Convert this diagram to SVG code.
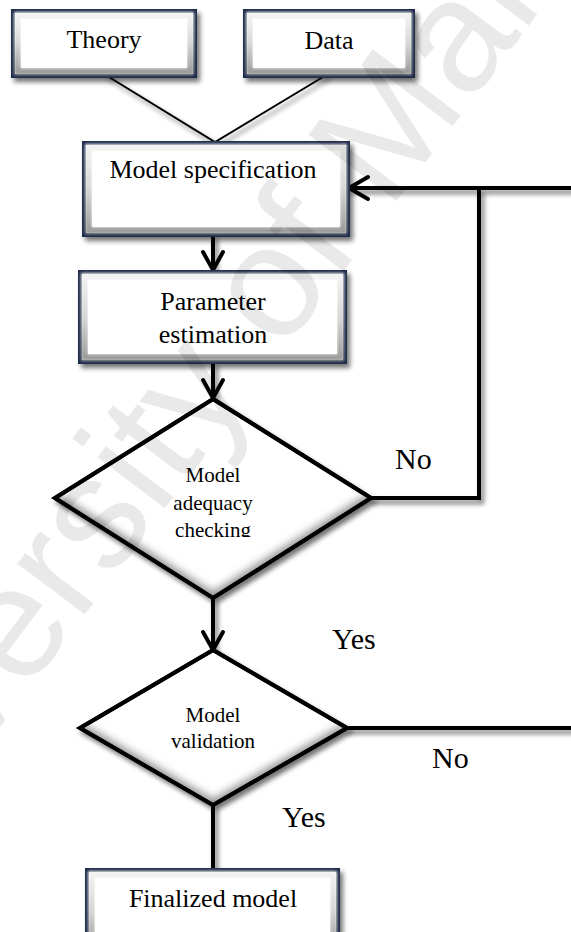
<svg xmlns="http://www.w3.org/2000/svg" width="571" height="932" viewBox="0 0 571 932">
  <defs>
    <style>
      .lbl { font-family: "Liberation Serif", "Times New Roman", serif; fill: #000; }
      .box-t { font-size: 26px; text-anchor: middle; }
      .dia-t { font-size: 21px; text-anchor: middle; }
      .edge-t { font-size: 30px; }
      .frame { fill: #fff; stroke: #1d2b4a; stroke-width: 4; }
      .bevel { fill: none; stroke: url(#bevelGrad); stroke-width: 7; }
      .dia { fill: #fff; stroke: #000; stroke-width: 4; stroke-linejoin: miter; }
      .wire { fill: none; stroke: #000; stroke-width: 4; stroke-linecap: square; }
      .thin { fill: none; stroke: #000; stroke-width: 2; }
      .head { fill: none; stroke: #000; stroke-width: 4; stroke-linecap: round; stroke-linejoin: miter; }
      .wm { font-family: "Liberation Sans", Arial, sans-serif; font-size: 160px; fill: #000; fill-opacity: 0.085; }
    </style>
    <filter id="shadow" x="-20%" y="-20%" width="150%" height="150%">
      <feGaussianBlur in="SourceAlpha" stdDeviation="2.5"/>
      <feOffset dx="3" dy="4" result="off"/>
      <feComponentTransfer><feFuncA type="linear" slope="0.55"/></feComponentTransfer>
      <feMerge><feMergeNode/><feMergeNode in="SourceGraphic"/></feMerge>
    </filter>
    <filter id="soft" x="-10%" y="-10%" width="120%" height="120%">
      <feGaussianBlur stdDeviation="1.6"/>
    </filter>
    <filter id="inner" x="-10%" y="-10%" width="120%" height="120%">
      <feGaussianBlur stdDeviation="4"/>
    </filter>
    <linearGradient id="bevelGrad" x1="0" y1="0" x2="0" y2="1">
      <stop offset="0" stop-color="#f2f2f2"/>
      <stop offset="0.5" stop-color="#d6d6d6"/>
      <stop offset="1" stop-color="#9c9c9c"/>
    </linearGradient>
    <clipPath id="clipD1"><polygon points="213,399 371,498 213,598 55,498"/></clipPath>
    <clipPath id="clipD2"><polygon points="213,650 347,728 213,805 80,728"/></clipPath>
    <clipPath id="clipCheck"><rect x="0" y="0" width="571" height="537"/></clipPath>
  </defs>

  <rect width="571" height="932" fill="#fff"/>

  <!-- connectors -->
  <g id="connectors">
    <g filter="url(#shadow)">
      <polyline class="thin" points="104,74 215,142 328,74"/>
      <line class="wire" x1="213" y1="237" x2="213" y2="268"/>
      <line class="wire" x1="213" y1="364" x2="213" y2="396"/>
      <line class="wire" x1="213" y1="600" x2="213" y2="648"/>
      <line class="wire" x1="213" y1="807" x2="213" y2="868"/>
      <polyline class="wire" points="371,498 479,498 479,188"/>
      <line class="wire" x1="350" y1="188" x2="575" y2="188"/>
      <line class="wire" x1="347" y1="728" x2="575" y2="728"/>
    </g>
    <polyline class="head" points="203,252 213,270 223,252"/>
    <polyline class="head" points="203,380 213,398 223,380"/>
    <polyline class="head" points="203,632 213,650 223,632"/>
    <polyline class="head" points="368,177 349,188 368,199"/>
  </g>

  <!-- Theory -->
  <g id="theory">
    <rect class="frame" x="13" y="11" width="182" height="65" filter="url(#shadow)"/>
    <rect class="bevel" x="17.5" y="15.5" width="173" height="56" filter="url(#soft)"/>
    <rect x="21" y="19" width="166" height="49" fill="#fff"/>
    <text class="lbl box-t" x="104" y="48">Theory</text>
  </g>

  <!-- Data -->
  <g id="data">
    <rect class="frame" x="245" y="11" width="168" height="65" filter="url(#shadow)"/>
    <rect class="bevel" x="249.5" y="15.5" width="159" height="56" filter="url(#soft)"/>
    <rect x="253" y="19" width="152" height="49" fill="#fff"/>
    <text class="lbl box-t" x="329" y="49">Data</text>
  </g>

  <!-- Model specification -->
  <g id="model-spec">
    <rect class="frame" x="84" y="143" width="264" height="92" filter="url(#shadow)"/>
    <rect class="bevel" x="88.5" y="147.5" width="255" height="83" filter="url(#soft)"/>
    <rect x="92" y="151" width="248" height="76" fill="#fff"/>
    <text class="lbl box-t" x="213" y="178">Model specification</text>
  </g>

  <!-- Parameter estimation -->
  <g id="param-est">
    <rect class="frame" x="80" y="272" width="265" height="90" filter="url(#shadow)"/>
    <rect class="bevel" x="84.5" y="276.5" width="256" height="81" filter="url(#soft)"/>
    <rect x="88" y="280" width="249" height="74" fill="#fff"/>
    <text class="lbl box-t" x="213" y="310">Parameter</text>
    <text class="lbl box-t" x="213" y="343">estimation</text>
  </g>

  <!-- Model adequacy checking -->
  <g id="adequacy">
    <polygon class="dia" points="213,399 371,498 213,598 55,498" filter="url(#shadow)"/>
    <g clip-path="url(#clipD1)">
      <polyline points="55,498 213,598 371,498" fill="none" stroke="#8a8a8a" stroke-width="10" filter="url(#inner)"/>
    </g>
    <polygon points="213,399 371,498 213,598 55,498" fill="none" stroke="#000" stroke-width="4"/>
    <text class="lbl dia-t" x="213" y="482">Model</text>
    <text class="lbl dia-t" x="213" y="510">adequacy</text>
    <text class="lbl dia-t" x="213" y="537" clip-path="url(#clipCheck)">checking</text>
  </g>

  <!-- Model validation -->
  <g id="validation">
    <polygon class="dia" points="213,650 347,728 213,805 80,728" filter="url(#shadow)"/>
    <g clip-path="url(#clipD2)">
      <polyline points="80,728 213,805 347,728" fill="none" stroke="#8a8a8a" stroke-width="10" filter="url(#inner)"/>
    </g>
    <polygon points="213,650 347,728 213,805 80,728" fill="none" stroke="#000" stroke-width="4"/>
    <text class="lbl dia-t" x="213" y="722">Model</text>
    <text class="lbl dia-t" x="213" y="748">validation</text>
  </g>

  <!-- Finalized model -->
  <g id="finalized">
    <rect class="frame" x="87" y="870" width="251" height="80" filter="url(#shadow)"/>
    <rect class="bevel" x="91.5" y="874.5" width="242" height="71" filter="url(#soft)"/>
    <rect x="95" y="878" width="235" height="64" fill="#fff"/>
    <text class="lbl box-t" x="213" y="907">Finalized model</text>
  </g>

  <!-- branch labels -->
  <g id="edge-labels">
    <text class="lbl edge-t" x="395" y="469">No</text>
    <text class="lbl edge-t" x="332" y="649">Yes</text>
    <text class="lbl edge-t" x="432" y="768">No</text>
    <text class="lbl edge-t" x="282" y="827">Yes</text>
  </g>

  <!-- faint stamp laid over the page -->
  <g id="watermark">
    <text class="wm" transform="translate(-168,950) rotate(-53)">University of Malaya</text>
  </g>
</svg>
